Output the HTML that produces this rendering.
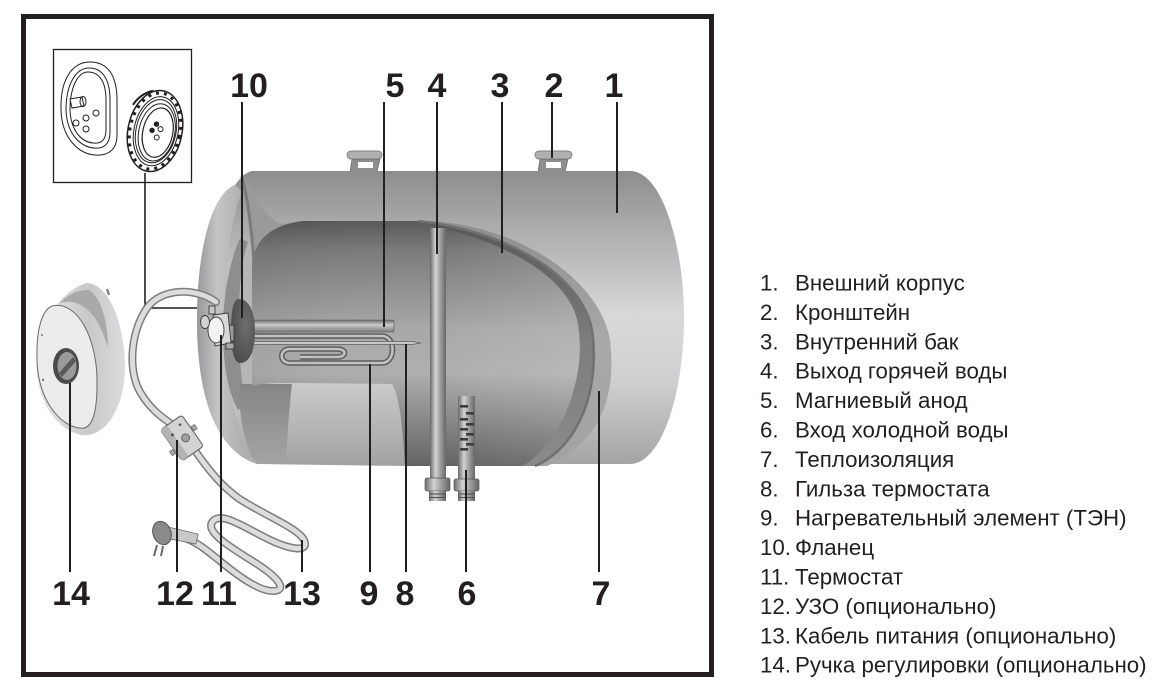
<!DOCTYPE html>
<html><head><meta charset="utf-8"><style>
html,body{margin:0;padding:0;background:#fff;}
svg{display:block;}
</style></head><body>
<svg width="1158" height="689" viewBox="0 0 1158 689" xmlns="http://www.w3.org/2000/svg">
<defs>
 <linearGradient id="shell" x1="0" y1="171" x2="0" y2="464" gradientUnits="userSpaceOnUse">
  <stop offset="0" stop-color="#8d8d8f"/>
  <stop offset="0.2" stop-color="#adadaf"/>
  <stop offset="0.5" stop-color="#d9d9db"/>
  <stop offset="0.72" stop-color="#cfcfd1"/>
  <stop offset="1" stop-color="#a4a4a6"/>
 </linearGradient>
 <linearGradient id="inner" x1="0" y1="221" x2="0" y2="466" gradientUnits="userSpaceOnUse">
  <stop offset="0" stop-color="#58585a"/>
  <stop offset="0.12" stop-color="#7a7a7c"/>
  <stop offset="0.45" stop-color="#a9a9ab"/>
  <stop offset="0.62" stop-color="#afafb1"/>
  <stop offset="0.88" stop-color="#7a7a7c"/>
  <stop offset="1" stop-color="#636365"/>
 </linearGradient>
 <linearGradient id="innerH" x1="246" y1="0" x2="580" y2="0" gradientUnits="userSpaceOnUse">
  <stop offset="0" stop-color="#000" stop-opacity="0.06"/>
  <stop offset="0.6" stop-color="#fff" stop-opacity="0"/>
  <stop offset="1" stop-color="#fff" stop-opacity="0.12"/>
 </linearGradient>
 <linearGradient id="band" x1="0" y1="221" x2="0" y2="466" gradientUnits="userSpaceOnUse">
  <stop offset="0" stop-color="#8e8e90"/>
  <stop offset="0.5" stop-color="#a9a9ab"/>
  <stop offset="1" stop-color="#a2a2a4"/>
 </linearGradient>
 <linearGradient id="bandDark" x1="0" y1="221" x2="0" y2="466" gradientUnits="userSpaceOnUse">
  <stop offset="0" stop-color="#575759"/>
  <stop offset="0.5" stop-color="#7e7e80"/>
  <stop offset="1" stop-color="#8a8a8c"/>
 </linearGradient>
 <linearGradient id="cap" x1="197" y1="0" x2="242" y2="0" gradientUnits="userSpaceOnUse">
  <stop offset="0" stop-color="#98989a"/>
  <stop offset="0.45" stop-color="#c4c4c6"/>
  <stop offset="1" stop-color="#b0b0b2"/>
 </linearGradient>
 <linearGradient id="lower" x1="0" y1="384" x2="0" y2="466" gradientUnits="userSpaceOnUse">
  <stop offset="0" stop-color="#cacacc"/>
  <stop offset="1" stop-color="#a2a2a4"/>
 </linearGradient>
 <linearGradient id="wedge" x1="0" y1="384" x2="0" y2="464" gradientUnits="userSpaceOnUse">
  <stop offset="0" stop-color="#858587"/>
  <stop offset="1" stop-color="#a4a4a6"/>
 </linearGradient>
 <linearGradient id="pipe" x1="0" y1="0" x2="1" y2="0">
  <stop offset="0" stop-color="#6a6a6c"/>
  <stop offset="0.35" stop-color="#d2d2d4"/>
  <stop offset="0.6" stop-color="#a6a6a8"/>
  <stop offset="1" stop-color="#666668"/>
 </linearGradient>
 <linearGradient id="rod" x1="0" y1="0" x2="0" y2="1">
  <stop offset="0" stop-color="#6a6a6c"/>
  <stop offset="0.4" stop-color="#cacacc"/>
  <stop offset="1" stop-color="#7a7a7c"/>
 </linearGradient>
 <radialGradient id="flange" cx="0.6" cy="0.4" r="0.7">
  <stop offset="0" stop-color="#6e6e70"/>
  <stop offset="1" stop-color="#4a4a4c"/>
 </radialGradient>
 <linearGradient id="knobback" x1="0" y1="0" x2="1" y2="0">
  <stop offset="0" stop-color="#e6e6e8"/>
  <stop offset="0.6" stop-color="#c8c8ca"/>
  <stop offset="1" stop-color="#dcdcde"/>
 </linearGradient>
</defs>

<!-- frame -->
<rect x="23.5" y="16.5" width="688" height="658" fill="#fff" stroke="#231f20" stroke-width="5"/>

<!-- inset box -->
<rect x="53.5" y="49.5" width="138" height="133" fill="#fff" stroke="#231f20" stroke-width="1.3"/>
<g fill="none" stroke="#231f20" stroke-width="1">
 <path d="M90,62 C108,62 117,76 117,100 L117,135 C117,150 108,156 95,155 C80,154 62,140 61,110 C60,80 72,62 90,62 Z" fill="#fff"/>
 <path d="M89,68 C103,68 110,80 110,100 L110,132 C110,145 103,149 94,148 C82,147 67,136 66,110 C66,84 76,68 89,68 Z"/>
 <path d="M88,72 C100,72 106,83 106,100 L106,130 C106,141 100,144 93,143 C83,142 71,133 70,110 C70,87 78,72 88,72 Z"/>
 <path d="M70,99 L82,97 L84,106 L72,108 Z" fill="#fff"/>
 <ellipse cx="83" cy="101.5" rx="3" ry="5"/>
 <circle cx="76" cy="123" r="3"/>
 <circle cx="86" cy="118" r="3"/>
 <circle cx="96" cy="113" r="3"/>
 <circle cx="86" cy="129" r="3"/>
</g>
<g transform="rotate(12 155 131)" fill="none" stroke="#231f20">
 <ellipse cx="155" cy="131" rx="27" ry="41" fill="#fff" stroke-width="1.5"/>
 <ellipse cx="155" cy="131" rx="25" ry="38.5" stroke-width="3" stroke-dasharray="3 5"/>
 <ellipse cx="156" cy="131" rx="22" ry="35" stroke-width="1"/>
 <ellipse cx="156" cy="131" rx="20" ry="32" stroke-width="1"/>
 <ellipse cx="157" cy="132" rx="18" ry="29" stroke-width="1"/>
 <ellipse cx="158" cy="132" rx="15" ry="25" stroke-width="1.2" fill="#fff"/>
 <circle cx="155" cy="124" r="2.2" fill="#231f20"/>
 <circle cx="160" cy="128" r="2.5"/>
 <circle cx="152" cy="131" r="2.2" fill="#231f20"/>
 <circle cx="158" cy="137" r="2.5"/>
 <path d="M128,110 C132,100 138,95 145,92" stroke-width="2"/>
</g>
<polyline points="145,173 145,308 235,308" fill="none" stroke="#231f20" stroke-width="1.6"/>

<!-- brackets -->
<g stroke="#6a6a6c" stroke-width="0.7">
 <path d="M352,159 L380,159 L377,172 L350,172 Z" fill="#8e8e90"/>
 <rect x="358" y="162" width="15" height="6" fill="#fff" stroke="none"/>
 <rect x="347" y="151" width="35" height="8" rx="4" fill="#b0b0b2"/>
 <path d="M540,159 L568,159 L565,172 L538,172 Z" fill="#8e8e90"/>
 <rect x="546" y="162" width="15" height="6" fill="#fff" stroke="none"/>
 <rect x="535" y="151" width="37" height="8" rx="4" fill="#b0b0b2"/>
</g>

<!-- outer shell -->
<path d="M252,171 L630,171 C662,171 684,245 684,318 C684,392 662,464 630,464 L257,464 C215,450 197,395 197,320 C197,255 210,195 235,185 C240,178 246,172 252,171 Z" fill="url(#shell)"/>
<!-- end cap crescent -->
<path d="M235,185 C210,195 197,255 197,320 C197,395 215,450 257,464 C240,445 226,395 226,320 C226,255 232,215 242,192 Z" fill="url(#cap)"/>
<!-- inner ring of end -->
<path d="M240,238 C228,265 223,300 223,330 C223,365 228,392 238,410 L246,405 C241,380 239,350 239,322 C239,292 241,262 248,242 Z" fill="#8e8e90"/>
<path d="M248,242 C241,262 239,292 239,322 C239,350 241,380 246,405 L252,400 L252,245 Z" fill="#b6b6b8"/>
<!-- rim darker at top-left -->
<path d="M243,174 C252,192 262,214 280,224 L303,221 C274,228 259,246 255,272 C250,240 247,205 243,174 Z" fill="#9a9a9c"/>
<path d="M242,176 C248,200 252,235 254,262" fill="none" stroke="#7c7c7e" stroke-width="3"/>

<!-- lower shell region in cutaway -->
<path d="M244,384 L392,384 C400,398 403,430 405,466 L257,464 C246,448 242,415 244,384 Z" fill="url(#lower)"/>
<path d="M240,384 L292,384 C289,410 287,440 286,463 L257,464 C244,445 238,415 240,384 Z" fill="url(#wedge)"/>

<!-- band (insulation) -->
<path d="M407,221 L430,221 C520,226 600,280 610,340 C616,390 605,440 547,466 L523,466 C565,440 588,370 577,320 C565,270 490,235 407,221 Z" fill="url(#band)"/>
<path d="M407,221 L418,221 C505,230 582,275 592,330 C600,385 582,445 535,466 L523,466 C565,440 588,370 577,320 C565,270 490,235 407,221 Z" fill="url(#bandDark)"/>
<path d="M418,221 C505,230 582,275 592,330 C600,385 582,445 535,466" fill="none" stroke="#717173" stroke-width="2.5"/>

<!-- inner tank -->
<path d="M303,221 L407,221 C490,235 565,270 577,320 C588,370 565,440 523,466 L405,466 C403,430 400,398 392,384 L290,383 C270,383 258,384 252,386 L252,262 C256,240 270,225 303,221 Z" fill="url(#inner)"/>
<path d="M303,221 L407,221 C490,235 565,270 577,320 C588,370 565,440 523,466 L405,466 C403,430 400,398 392,384 L290,383 C270,383 258,384 252,386 L252,262 C256,240 270,225 303,221 Z" fill="url(#innerH)"/>

<!-- hot water pipe (4) -->
<rect x="430" y="228" width="16" height="252" fill="url(#pipe)"/>
<rect x="425" y="478" width="25" height="13" rx="2" fill="url(#pipe)" stroke="#58585a" stroke-width="0.7"/>
<rect x="429" y="491" width="17" height="10" fill="url(#pipe)"/>
<g stroke="#4e4e50" stroke-width="1"><line x1="429" y1="494" x2="446" y2="494"/><line x1="429" y1="497.5" x2="446" y2="497.5"/></g>

<!-- cold water pipe (6) -->
<rect x="458" y="396" width="17" height="84" fill="url(#pipe)"/>
<g fill="#3c3c3e">
 <rect x="460" y="405" width="8" height="2.6"/><rect x="466" y="412" width="8" height="2.6"/>
 <rect x="460" y="418" width="8" height="2.6"/><rect x="466" y="423" width="8" height="2.6"/>
 <rect x="460" y="428" width="8" height="2.6"/><rect x="466" y="433" width="8" height="2.6"/>
 <rect x="460" y="438" width="8" height="2.6"/><rect x="466" y="443" width="8" height="2.6"/>
 <rect x="460" y="448" width="8" height="2.6"/>
</g>
<rect x="454" y="479" width="25" height="12" rx="2" fill="url(#pipe)" stroke="#58585a" stroke-width="0.7"/>
<rect x="458" y="491" width="17" height="10" fill="url(#pipe)"/>
<g stroke="#4e4e50" stroke-width="1"><line x1="458" y1="494" x2="475" y2="494"/><line x1="458" y1="497.5" x2="475" y2="497.5"/></g>

<!-- anode (5) -->
<rect x="248" y="320" width="146" height="12" rx="1.5" fill="url(#rod)" stroke="#5a5a5c" stroke-width="0.6"/>
<!-- heating element (9) -->
<path d="M248,336 L382,336 C396,336 396,363 382,363 L290,363 C279,363 279,349 290,349 L337,349 C347,349 347,357 337,357 L300,357" fill="none" stroke="#5c5c5e" stroke-width="5.5" stroke-linejoin="round"/>
<path d="M248,336 L382,336 C396,336 396,363 382,363 L290,363 C279,363 279,349 290,349 L337,349 C347,349 347,357 337,357 L300,357" fill="none" stroke="#c2c2c4" stroke-width="2.6" stroke-linejoin="round"/>
<!-- sleeve (8) -->
<path d="M248,341.5 L412,341.5 L421,343 L412,344.5 L248,344.5 Z" fill="#c8c8ca" stroke="#5e5e60" stroke-width="0.7"/>

<!-- flange (10) -->
<path d="M239,299 C251,299 255,317 255,331 C255,348 251,363 240,363 C234,363 231,350 231,331 C231,312 233,299 239,299 Z" fill="url(#flange)"/>
<!-- thermostat (11) -->
<g stroke="#3a3a3c" stroke-width="0.9">
 <rect x="222" y="325" width="12" height="16" fill="#9a9a9c"/>
 <path d="M213,315 L228,313 L231,343 L215,346 Z" fill="#d8d8da"/>
 <ellipse cx="216" cy="330" rx="8" ry="13" fill="#f2f2f4"/>
 <ellipse cx="205" cy="322" rx="4.5" ry="6.5" fill="#d0d0d2"/>
 <rect x="209" y="306" width="6" height="8" fill="#c8c8ca"/>
 <rect x="226" y="343" width="8" height="6" fill="#a8a8aa"/>
</g>

<!-- cable -->
<g fill="none" stroke-linecap="round" stroke-linejoin="round">
 <path d="M216,302 C197,288 162,287 147,308 C129,334 128,375 142,395 C150,408 160,416 170,423" stroke="#7c7c7e" stroke-width="8"/>
 <path d="M216,302 C197,288 162,287 147,308 C129,334 128,375 142,395 C150,408 160,416 170,423" stroke="#dcdcde" stroke-width="5"/>
 <path d="M196,452 C210,472 222,486 238,498 C262,514 298,528 304,540 C310,553 290,550 266,538 C242,526 222,512 213,521 C204,531 228,546 254,562 C278,577 288,590 274,591 C260,592 238,576 220,561 C205,549 195,540 176,535" stroke="#7c7c7e" stroke-width="8"/>
 <path d="M196,452 C210,472 222,486 238,498 C262,514 298,528 304,540 C310,553 290,550 266,538 C242,526 222,512 213,521 C204,531 228,546 254,562 C278,577 288,590 274,591 C260,592 238,576 220,561 C205,549 195,540 176,535" stroke="#dcdcde" stroke-width="5"/>
</g>
<!-- RCD box (12) -->
<g transform="translate(182 438) rotate(-35)">
 <rect x="-13" y="-19" width="26" height="38" rx="3" fill="#d4d4d6" stroke="#5c5c5e" stroke-width="1"/>
 <rect x="-13" y="-19" width="8" height="38" rx="2" fill="#b4b4b6"/>
 <circle cx="3" cy="2" r="4" fill="#a0a0a2" stroke="#555" stroke-width="0.8"/>
 <circle cx="-6" cy="-8" r="1.5" fill="#555"/>
 <circle cx="6" cy="-12" r="1.3" fill="#555"/>
 <rect x="14" y="-4" width="4" height="5" fill="#aaa" stroke="#555" stroke-width="0.6"/>
 <rect x="-18" y="4" width="4" height="5" fill="#aaa" stroke="#555" stroke-width="0.6"/>
</g>
<!-- plug -->
<g>
 <path d="M168,527 L198,534 L196,544 L166,538 Z" fill="#c8c8ca" stroke="#6a6a6c" stroke-width="0.8"/>
 <ellipse cx="162" cy="533" rx="9" ry="12" transform="rotate(-20 162 533)" fill="#8a8a8c" stroke="#4e4e50" stroke-width="0.9"/>
 <line x1="157" y1="545" x2="154" y2="556" stroke="#6a6a6c" stroke-width="2"/>
 <line x1="163" y1="546" x2="161" y2="556" stroke="#6a6a6c" stroke-width="2"/>
</g>

<!-- knob cover (14) -->
<path d="M86,283 C108,283 123,320 125,362 C126,402 110,432 88,435 C72,437 45,420 38,382 C31,342 50,296 86,283 Z" fill="url(#knobback)"/>
<path d="M88,290 C100,295 108,320 108,348 C104,335 98,320 90,312 C80,302 70,300 60,303 C68,294 78,290 88,290 Z" fill="#a9a9ab"/>
<path d="M107,289 L109,295" stroke="#888" stroke-width="2.5"/>
<path d="M52,306 C78,300 98,340 97,385 C97,418 90,430 80,428 C60,426 38,400 37,360 C36,330 42,310 52,306 Z" fill="#ececee" stroke="#6a6a6c" stroke-width="1"/>
<ellipse cx="66" cy="366" rx="13" ry="18" fill="#4a4a4c"/>
<ellipse cx="67" cy="366" rx="9.5" ry="14" fill="#9a9a9c"/>
<path d="M59,373 L73,357 L76,361 L62,377 Z" fill="#5a5a5c"/>
<circle cx="43" cy="380" r="1.2" fill="#777"/>
<circle cx="42" cy="335" r="1" fill="#777"/>

<!-- leader lines -->
<g stroke="#231f20" stroke-width="2" fill="none">
 <line x1="242" y1="102" x2="242" y2="318"/>
 <line x1="384" y1="102" x2="384" y2="327"/>
 <line x1="437" y1="102" x2="437" y2="254"/>
 <line x1="502" y1="102" x2="502" y2="253"/>
 <line x1="552" y1="102" x2="552" y2="158"/>
 <line x1="617" y1="102" x2="617" y2="213"/>
 <line x1="70" y1="383" x2="70" y2="572"/>
 <line x1="177" y1="440" x2="177" y2="572"/>
 <line x1="221" y1="335" x2="221" y2="572"/>
 <line x1="302" y1="540" x2="302" y2="572"/>
 <line x1="370" y1="364" x2="370" y2="572"/>
 <line x1="406" y1="344" x2="406" y2="572"/>
 <line x1="466" y1="470" x2="466" y2="572"/>
 <line x1="599" y1="391" x2="599" y2="572"/>
</g>

<!-- number labels -->
<g font-family="'Liberation Sans', sans-serif" font-weight="bold" font-size="34" fill="#231f20" text-anchor="middle">
 <text x="249" y="97">10</text>
 <text x="395" y="97">5</text>
 <text x="437" y="97">4</text>
 <text x="500" y="97">3</text>
 <text x="554" y="97">2</text>
 <text x="614" y="97">1</text>
 <text x="71" y="605">14</text>
 <text x="175" y="605">12</text>
 <text x="219" y="605">11</text>
 <text x="302" y="605">13</text>
 <text x="369" y="605">9</text>
 <text x="405" y="605">8</text>
 <text x="467" y="605">6</text>
 <text x="601" y="605">7</text>
</g>

<!-- legend -->
<g font-family="'Liberation Sans', sans-serif" font-size="22.3" fill="#231f20">
 <text x="760" y="290.5">1.</text><text x="795" y="290.5">Внешний корпус</text>
 <text x="760" y="319.9">2.</text><text x="795" y="319.9">Кронштейн</text>
 <text x="760" y="349.3">3.</text><text x="795" y="349.3">Внутренний бак</text>
 <text x="760" y="378.7">4.</text><text x="795" y="378.7">Выход горячей воды</text>
 <text x="760" y="408.1">5.</text><text x="795" y="408.1">Магниевый анод</text>
 <text x="760" y="437.5">6.</text><text x="795" y="437.5">Вход холодной воды</text>
 <text x="760" y="466.9">7.</text><text x="795" y="466.9">Теплоизоляция</text>
 <text x="760" y="496.3">8.</text><text x="795" y="496.3">Гильза термостата</text>
 <text x="760" y="525.7">9.</text><text x="795" y="525.7">Нагревательный элемент (ТЭН)</text>
 <text x="760" y="555.1">10.</text><text x="795" y="555.1">Фланец</text>
 <text x="760" y="584.5">11.</text><text x="795" y="584.5">Термостат</text>
 <text x="760" y="613.9">12.</text><text x="795" y="613.9">УЗО (опционально)</text>
 <text x="760" y="643.3">13.</text><text x="795" y="643.3">Кабель питания (опционально)</text>
 <text x="760" y="672.7">14.</text><text x="795" y="672.7">Ручка регулировки (опционально)</text>
</g>
</svg>
</body></html>
